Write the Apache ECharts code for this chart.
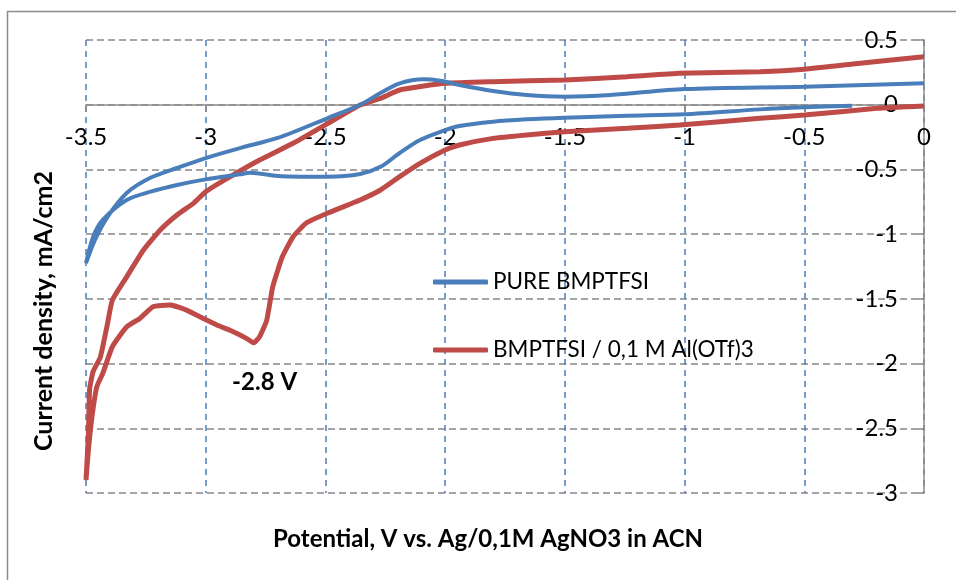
<!DOCTYPE html>
<html>
<head>
<meta charset="utf-8">
<script src="https://cdn.jsdelivr.net/npm/echarts@6/dist/echarts.min.js"></script>
<style>
  html, body { margin: 0; padding: 0; background: #ffffff; }
  #chart { width: 956px; height: 580px; }
</style>
</head>
<body>
<div id="chart"></div>
<script>
// Axis ticks (V and mA/cm2)
const potentialTicks = [-3.5, -3, -2.5, -2, -1.5, -1, -0.5, 0];
const currentTicks = [0.5, 0, -0.5, -1, -1.5, -2, -2.5, -3];

// Neat ionic liquid: scan from -0.3 V down to -3.5 V and back to 0 V
const pureX = [-0.3, -0.5, -0.685, -1.0, -1.24, -1.5, -1.66, -1.8, -1.94, -2.02, -2.105, -2.19, -2.27, -2.355, -2.49, -2.6, -2.7, -2.815, -2.857, -3.0, -3.12, -3.23, -3.33, -3.43, -3.47, -3.5,
               -3.463, -3.41, -3.33, -3.233, -3.12, -3.0, -2.857, -2.7, -2.49, -2.355, -2.27, -2.19, -2.09, -2.02, -1.94, -1.8, -1.66, -1.5, -1.31, -1.0, -0.5, 0];
const pureY = [-0.008, -0.02, -0.036, -0.074, -0.085, -0.1, -0.113, -0.131, -0.165, -0.209, -0.273, -0.373, -0.48, -0.535, -0.556, -0.556, -0.551, -0.526, -0.538, -0.577, -0.62, -0.672, -0.736, -0.89, -1.02, -1.224,
               -1.046, -0.866, -0.682, -0.566, -0.489, -0.412, -0.335, -0.257, -0.103, 0.0, 0.09, 0.165, 0.196, 0.185, 0.152, 0.106, 0.075, 0.062, 0.075, 0.121, 0.139, 0.165];

// With 0.1 M Al(OTf)3: scan from 0 V down to -3.5 V and back to 0 V
const alX = [0, -0.196, -0.5, -0.685, -1.02, -1.24, -1.5, -1.66, -1.8, -1.94, -2.0, -2.105, -2.19, -2.27, -2.355, -2.49, -2.58, -2.635, -2.68, -2.72, -2.745, -2.775, -2.8, -2.83, -2.885, -2.953, -3.01, -3.08, -3.15, -3.22, -3.275, -3.33, -3.39, -3.43, -3.455, -3.475, -3.49, -3.5,
             -3.49, -3.485, -3.47, -3.44, -3.41, -3.39, -3.33, -3.26, -3.19, -3.12, -3.05, -3.0, -2.91, -2.775, -2.635, -2.49, -2.355, -2.27, -2.19, -2.0, -1.8, -1.5, -1.24, -1.02, -0.685, -0.5, -0.267, 0];
const alY = [-0.01, -0.028, -0.08, -0.105, -0.157, -0.182, -0.209, -0.234, -0.26, -0.311, -0.35, -0.453, -0.556, -0.659, -0.736, -0.837, -0.914, -1.02, -1.175, -1.406, -1.664, -1.793, -1.84, -1.805, -1.754, -1.702, -1.651, -1.587, -1.548, -1.561, -1.651, -1.716, -1.87, -2.076, -2.18, -2.41, -2.668, -2.9,
             -2.55, -2.2, -2.06, -1.95, -1.69, -1.51, -1.33, -1.123, -0.968, -0.852, -0.76, -0.672, -0.569, -0.427, -0.298, -0.144, -0.002, 0.049, 0.114, 0.165, 0.178, 0.191, 0.216, 0.243, 0.255, 0.274, 0.32, 0.371];

const seriesNames = ['PURE BMPTFSI', 'BMPTFSI / 0,1 M Al(OTf)3'];
const peakPotential = -2.8;

const pairs = (xs, ys) => xs.map((x, i) => [x, ys[i]]);
const peakIndex = alX.indexOf(peakPotential);

const FONT = 'Lato, "Open Sans", sans-serif';
const BLUE = '#4a7ebb';
const RED = '#be4b48';
const AXIS_GREY = '#8c8c8c';

const chart = echarts.init(document.getElementById('chart'), null, { renderer: 'canvas' });
chart.setOption({
  animation: false,
  backgroundColor: '#ffffff',
  grid: { left: 86, right: 32, top: 40, bottom: 87, containLabel: false },
  xAxis: {
    type: 'value',
    min: potentialTicks[0],
    max: potentialTicks[potentialTicks.length - 1],
    interval: potentialTicks[1] - potentialTicks[0],
    offset: 0,
    axisLine: { show: true, onZero: false, lineStyle: { color: AXIS_GREY, width: 1.5 } },
    axisTick: { show: true, length: 7, lineStyle: { color: AXIS_GREY, width: 1.5 } },
    axisLabel: { color: '#000', fontFamily: FONT, fontSize: 24, margin: 21 },
    splitLine: { show: true, lineStyle: { color: BLUE, width: 1.5, type: [6, 5] } }
  },
  yAxis: {
    type: 'value',
    position: 'right',
    min: currentTicks[currentTicks.length - 1],
    max: currentTicks[0],
    interval: currentTicks[0] - currentTicks[1],
    axisLine: { show: true, onZero: false, lineStyle: { color: AXIS_GREY, width: 1.5 } },
    axisTick: { show: true, inside: true, length: 6, lineStyle: { color: AXIS_GREY, width: 1.5 } },
    axisLabel: { inside: true, color: '#000', fontFamily: FONT, fontSize: 24, margin: 26 },
    splitLine: { show: true, lineStyle: { color: '#878787', width: 1.5, type: [7, 4] } }
  },
  legend: {
    orient: 'vertical',
    left: 433,
    top: 269,
    padding: 0,
    itemGap: 42,
    itemWidth: 55,
    itemHeight: 5,
    icon: 'roundRect',
    textStyle: { color: '#000', fontFamily: FONT, fontSize: 22.5, lineHeight: 26 },
    data: seriesNames
  },
  series: [
    {
      name: seriesNames[0],
      type: 'line',
      data: pairs(pureX, pureY),
      showSymbol: false,
      smooth: 0.3,
      color: BLUE,
      lineStyle: { color: BLUE, width: 4 },
      z: 3
    },
    {
      name: seriesNames[1],
      type: 'line',
      data: pairs(alX, alY),
      showSymbol: false,
      smooth: 0.15,
      color: RED,
      lineStyle: { color: RED, width: 5 },
      z: 2,
      markPoint: {
        symbol: 'circle',
        symbolSize: 0,
        data: [{ coord: [peakPotential, alY[peakIndex]], value: peakPotential }],
        label: {
          show: true,
          formatter: peakPotential.toFixed(1) + ' V',
          color: '#000',
          fontFamily: FONT,
          fontWeight: 'bold',
          fontSize: 24,
          offset: [11, 39]
        }
      }
    }
  ],
  graphic: [
    {
      type: 'rect',
      silent: true,
      shape: { x: 7.5, y: 11.5, width: 1200, height: 1200 },
      style: { fill: 'none', stroke: AXIS_GREY, lineWidth: 1.5 }
    },
    {
      type: 'text',
      x: 488, y: 539,
      style: {
        text: 'Potential, V vs. Ag/0,1M AgNO3 in ACN',
        fontFamily: FONT, fontWeight: 'bold', fontSize: 24,
        fill: '#000', align: 'center', verticalAlign: 'middle'
      }
    },
    {
      type: 'text',
      x: 44, y: 311,
      rotation: Math.PI / 2,
      style: {
        text: 'Current density, mA/cm2',
        fontFamily: FONT, fontWeight: 'bold', fontSize: 25,
        fill: '#000', align: 'center', verticalAlign: 'middle'
      }
    }
  ]
});

// The potential axis crosses the current axis at 0 mA/cm2: lift it there from the grid bottom.
const gridBottom = chart.getHeight() - 87;
const zeroY = chart.convertToPixel({ yAxisIndex: 0 }, 0);
chart.setOption({ xAxis: { offset: -(gridBottom - zeroY) } });
</script>
</body>
</html>
